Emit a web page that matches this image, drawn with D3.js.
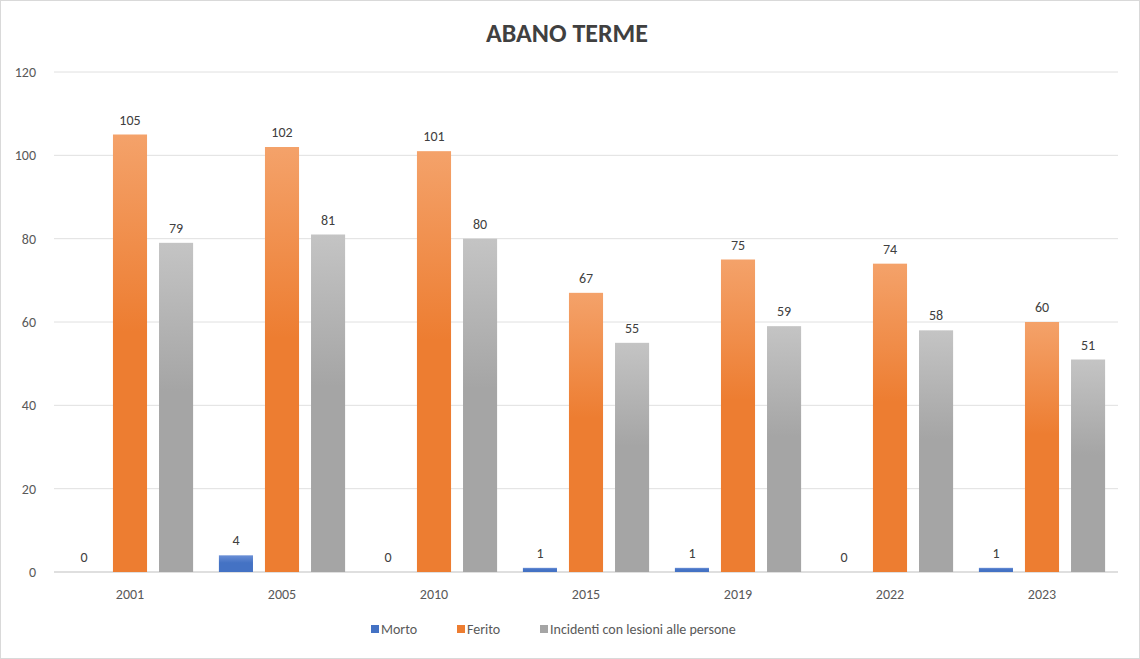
<!DOCTYPE html>
<html><head><meta charset="utf-8">
<script src="https://cdn.jsdelivr.net/npm/d3@7"></script>
<style>body{margin:0;background:#fff}svg{font-family:Calibri,Carlito,"Liberation Sans",Arial,sans-serif}</style>
</head><body><svg id="c" width="1140" height="659"></svg>
<script>
const years=["2001","2005","2010","2015","2019","2022","2023"];
const seriesNames=["Morto","Ferito","Incidenti con lesioni alle persone"];
const morto=[0,4,0,1,1,0,1];
const ferito=[105,102,101,67,75,74,60];
const incidenti=[79,81,80,55,59,58,51];
const yTicks=[0,20,40,60,80,100,120];
const colors=["#4472C4","#ED7D31","#A5A5A5"];
const data=[morto,ferito,incidenti];

const svg=d3.select("#c");
svg.append("rect").attr("x",0.5).attr("y",0.5).attr("width",1139).attr("height",658).attr("fill","#fff").attr("stroke","#d9d9d9");
const defs=svg.append("defs");
const light=["#6a8fd6","#f4a26a","#c4c4c4"];
colors.forEach((c,i)=>{const g=defs.append("linearGradient").attr("id","g"+i).attr("x1",0).attr("y1",0).attr("x2",0).attr("y2",1);
g.append("stop").attr("offset","0%").attr("stop-color",light[i]);g.append("stop").attr("offset","45%").attr("stop-color",c);g.append("stop").attr("offset","100%").attr("stop-color",c);});

const x=d3.scaleBand().domain(years).range([54,1118]);
const xs=d3.scaleBand().domain([0,1,2]).range([0,x.bandwidth()]).paddingInner(0.26).paddingOuter(0.28);
const y=d3.scaleLinear().domain([0,120]).range([572,72]);

svg.append("g").selectAll("line").data(yTicks).join("line").attr("x1",54).attr("x2",1118)
 .attr("y1",d=>y(d)).attr("y2",d=>y(d)).attr("stroke",d=>d===0?"#bfbfbf":"#e0e0e0");
svg.append("g").selectAll("text").data(yTicks).join("text").attr("x",36).attr("y",d=>y(d)+5)
 .attr("text-anchor","end").attr("font-size",14).attr("fill","#595959").text(d=>d);
svg.append("g").selectAll("text").data(years).join("text").attr("x",d=>x(d)+x.bandwidth()/2).attr("y",599)
 .attr("text-anchor","middle").attr("font-size",14).attr("fill","#595959").text(d=>d);

data.forEach((arr,s)=>{
 const g=svg.append("g");
 g.selectAll("rect").data(arr).join("rect").attr("x",(d,i)=>x(years[i])+xs(s)).attr("width",xs.bandwidth())
  .attr("y",d=>y(d)).attr("height",d=>y(0)-y(d)).attr("fill","url(#g"+s+")");
 g.selectAll("text").data(arr).join("text").attr("x",(d,i)=>x(years[i])+xs(s)+xs.bandwidth()/2)
  .attr("y",d=>y(d)-10).attr("text-anchor","middle").attr("font-size",14).attr("fill","#404040").text(d=>d);
});

svg.append("text").attr("x",567).attr("y",42).attr("text-anchor","middle").attr("font-size",26).attr("font-weight","bold").attr("fill","#404040").text("ABANO TERME");

const lx=[371,457,540];
seriesNames.forEach((n,i)=>{
 svg.append("rect").attr("x",lx[i]).attr("y",625).attr("width",8).attr("height",8).attr("fill",colors[i]);
 svg.append("text").attr("x",lx[i]+10).attr("y",634).attr("font-size",14).attr("fill","#595959").text(n);
});
</script></body></html>
